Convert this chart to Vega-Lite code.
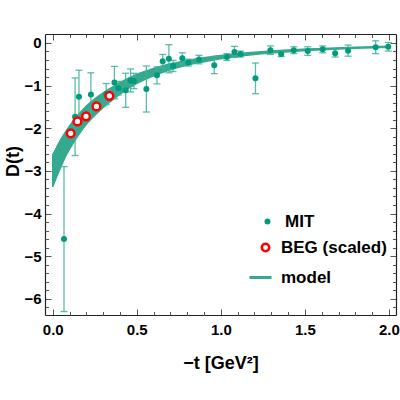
{
  "$schema": "https://vega.github.io/schema/vega-lite/v6.json",
  "autosize": "none",
  "width": 351,
  "height": 281,
  "padding": {"left": 45, "top": 34, "right": 4, "bottom": 85},
  "background": "white",
  "config": {
    "view": {"stroke": null},
    "font": "Liberation Sans",
    "axis": {
      "grid": false,
      "domainColor": "#222222",
      "domainWidth": 1.2,
      "tickColor": "#555555",
      "tickWidth": 1,
      "labelFont": "Liberation Sans",
      "labelFontWeight": "bold",
      "labelFontSize": 15,
      "labelColor": "black",
      "titleFont": "Liberation Sans",
      "titleFontWeight": "bold",
      "titleFontSize": 18,
      "titleColor": "black"
    },
    "legend": {
      "orient": "none",
      "padding": 0,
      "labelFont": "Liberation Sans",
      "labelFontSize": 17,
      "labelFontWeight": "bold",
      "labelColor": "black",
      "symbolOpacity": 1
    }
  },
  "datasets": {
    "mit": [
      {"t": 0.067, "d": -4.60, "err": 1.70, "series": "MIT"},
      {"t": 0.133, "d": -1.73, "err": 0.91, "series": "MIT"},
      {"t": 0.156, "d": -1.26, "err": 0.62, "series": "MIT"},
      {"t": 0.227, "d": -1.21, "err": 0.51, "series": "MIT"},
      {"t": 0.318, "d": -1.20, "err": 0.25, "series": "MIT"},
      {"t": 0.367, "d": -0.93, "err": 0.38, "series": "MIT"},
      {"t": 0.391, "d": -1.06, "err": 0.16, "series": "MIT"},
      {"t": 0.434, "d": -1.11, "err": 0.40, "series": "MIT"},
      {"t": 0.463, "d": -0.88, "err": 0.27, "series": "MIT"},
      {"t": 0.483, "d": -0.89, "err": 0.18, "series": "MIT"},
      {"t": 0.557, "d": -1.08, "err": 0.54, "series": "MIT"},
      {"t": 0.620, "d": -0.76, "err": 0.20, "series": "MIT"},
      {"t": 0.654, "d": -0.43, "err": 0.16, "series": "MIT"},
      {"t": 0.691, "d": -0.37, "err": 0.33, "series": "MIT"},
      {"t": 0.716, "d": -0.54, "err": 0.13, "series": "MIT"},
      {"t": 0.771, "d": -0.36, "err": 0.13, "series": "MIT"},
      {"t": 0.807, "d": -0.46, "err": 0.08, "series": "MIT"},
      {"t": 0.870, "d": -0.39, "err": 0.10, "series": "MIT"},
      {"t": 0.961, "d": -0.52, "err": 0.20, "series": "MIT"},
      {"t": 1.036, "d": -0.33, "err": 0.08, "series": "MIT"},
      {"t": 1.081, "d": -0.21, "err": 0.13, "series": "MIT"},
      {"t": 1.117, "d": -0.26, "err": 0.07, "series": "MIT"},
      {"t": 1.206, "d": -0.83, "err": 0.36, "series": "MIT"},
      {"t": 1.295, "d": -0.17, "err": 0.10, "series": "MIT"},
      {"t": 1.359, "d": -0.26, "err": 0.06, "series": "MIT"},
      {"t": 1.434, "d": -0.17, "err": 0.08, "series": "MIT"},
      {"t": 1.517, "d": -0.19, "err": 0.10, "series": "MIT"},
      {"t": 1.606, "d": -0.15, "err": 0.08, "series": "MIT"},
      {"t": 1.680, "d": -0.24, "err": 0.09, "series": "MIT"},
      {"t": 1.757, "d": -0.18, "err": 0.13, "series": "MIT"},
      {"t": 1.921, "d": -0.10, "err": 0.15, "series": "MIT"},
      {"t": 1.996, "d": -0.09, "err": 0.10, "series": "MIT"}
    ],
    "beg": [
      {"t": 0.107, "d": -2.12, "series": "BEG (scaled)"},
      {"t": 0.147, "d": -1.84, "series": "BEG (scaled)"},
      {"t": 0.198, "d": -1.72, "series": "BEG (scaled)"},
      {"t": 0.260, "d": -1.49, "series": "BEG (scaled)"},
      {"t": 0.337, "d": -1.24, "series": "BEG (scaled)"}
    ],
    "model": [
      {"t": 0.00, "hi": -2.63, "lo": -3.37, "series": "model"},
      {"t": 0.02, "hi": -2.47, "lo": -3.17, "series": "model"},
      {"t": 0.05, "hi": -2.25, "lo": -2.89, "series": "model"},
      {"t": 0.08, "hi": -2.06, "lo": -2.63, "series": "model"},
      {"t": 0.12, "hi": -1.84, "lo": -2.36, "series": "model"},
      {"t": 0.16, "hi": -1.65, "lo": -2.12, "series": "model"},
      {"t": 0.20, "hi": -1.48, "lo": -1.91, "series": "model"},
      {"t": 0.26, "hi": -1.28, "lo": -1.66, "series": "model"},
      {"t": 0.32, "hi": -1.12, "lo": -1.45, "series": "model"},
      {"t": 0.40, "hi": -0.93, "lo": -1.20, "series": "model"},
      {"t": 0.50, "hi": -0.74, "lo": -0.95, "series": "model"},
      {"t": 0.60, "hi": -0.60, "lo": -0.77, "series": "model"},
      {"t": 0.70, "hi": -0.49, "lo": -0.63, "series": "model"},
      {"t": 0.80, "hi": -0.41, "lo": -0.52, "series": "model"},
      {"t": 0.90, "hi": -0.345, "lo": -0.44, "series": "model"},
      {"t": 1.00, "hi": -0.295, "lo": -0.37, "series": "model"},
      {"t": 1.20, "hi": -0.22, "lo": -0.27, "series": "model"},
      {"t": 1.40, "hi": -0.165, "lo": -0.205, "series": "model"},
      {"t": 1.60, "hi": -0.13, "lo": -0.16, "series": "model"},
      {"t": 1.80, "hi": -0.10, "lo": -0.125, "series": "model"},
      {"t": 2.00, "hi": -0.075, "lo": -0.10, "series": "model"}
    ]
  },
  "resolve": {
    "scale": {"color": "independent"},
    "axis": {"x": "independent", "y": "independent"}
  },
  "layer": [
    {
      "data": {"name": "model"},
      "mark": {"type": "area", "interpolate": "monotone", "stroke": "#35a98f", "strokeWidth": 1.5, "opacity": 1},
      "encoding": {
        "x": {
          "field": "t", "type": "quantitative",
          "scale": {"domain": [-0.046, 2.042], "nice": false, "zero": false},
          "axis": {
            "orient": "bottom", "values": [0, 0.5, 1, 1.5, 2], "format": ".1f",
            "tickSize": -6, "labelPadding": 13, "labelFlush": false,
            "title": "−t [GeV²]", "titlePadding": 17
          }
        },
        "y": {
          "field": "lo", "type": "quantitative",
          "scale": {"domain": [-6.38, 0.21], "nice": false, "zero": false},
          "axis": {
            "orient": "left", "values": [-6, -5, -4, -3, -2, -1, 0], "format": "d",
            "tickSize": -6, "labelPadding": 10, "title": "D(t)", "titleX": -23, "titleY": 127
          }
        },
        "y2": {"field": "hi"},
        "color": {
          "field": "series", "type": "nominal",
          "scale": {"domain": ["model"], "range": ["#35a98f"]},
          "legend": {
            "title": null, "legendX": 203, "legendY": 231,
            "symbolType": "stroke", "symbolSize": 484, "symbolStrokeWidth": 3,
            "symbolStrokeColor": "#35a98f", "labelOffset": 8
          }
        }
      }
    },
    {
      "data": {"name": "mit"},
      "mark": {"type": "errorbar", "color": "#3fb099", "opacity": 0.85, "thickness": 1.3, "ticks": {"size": 7}},
      "encoding": {
        "x": {"field": "t", "type": "quantitative", "scale": {"domain": [-0.046, 2.042], "nice": false, "zero": false}, "axis": null},
        "y": {"field": "d", "type": "quantitative", "scale": {"domain": [-6.38, 0.21], "nice": false, "zero": false}, "axis": null},
        "yError": {"field": "err"}
      }
    },
    {
      "data": {"name": "mit"},
      "mark": {"type": "point", "filled": true, "size": 36, "opacity": 1},
      "encoding": {
        "x": {
          "field": "t", "type": "quantitative",
          "scale": {"domain": [-0.046, 2.042], "nice": false, "zero": false},
          "axis": {
            "orient": "bottom", "values": [0.1, 0.2, 0.3, 0.4, 0.6, 0.7, 0.8, 0.9, 1.1, 1.2, 1.3, 1.4, 1.6, 1.7, 1.8, 1.9],
            "labels": false, "domain": false, "tickSize": -3.5, "title": null
          }
        },
        "y": {
          "field": "d", "type": "quantitative",
          "scale": {"domain": [-6.38, 0.21], "nice": false, "zero": false},
          "axis": {
            "orient": "left",
            "values": [-6.2, -5.8, -5.6, -5.4, -5.2, -4.8, -4.6, -4.4, -4.2, -3.8, -3.6, -3.4, -3.2, -2.8, -2.6, -2.4, -2.2, -1.8, -1.6, -1.4, -1.2, -0.8, -0.6, -0.4, -0.2],
            "labels": false, "domain": false, "tickSize": -3.5, "title": null
          }
        },
        "color": {
          "field": "series", "type": "nominal",
          "scale": {"domain": ["MIT"], "range": ["#009b7d"]},
          "legend": {
            "title": null, "legendX": 214, "legendY": 179,
            "symbolType": "circle", "symbolSize": 36, "symbolStrokeWidth": 0, "labelOffset": 9
          }
        }
      }
    },
    {
      "data": {"name": "beg"},
      "mark": {"type": "point", "filled": false, "fill": "white", "fillOpacity": 1, "strokeWidth": 2.5, "size": 60, "opacity": 1},
      "encoding": {
        "x": {
          "field": "t", "type": "quantitative",
          "scale": {"domain": [-0.046, 2.042], "nice": false, "zero": false},
          "axis": {
            "orient": "top",
            "values": [0, 0.1, 0.2, 0.3, 0.4, 0.5, 0.6, 0.7, 0.8, 0.9, 1, 1.1, 1.2, 1.3, 1.4, 1.5, 1.6, 1.7, 1.8, 1.9, 2],
            "labels": false, "title": null,
            "tickSize": {"condition": {"test": "abs(datum.value * 2 - round(datum.value * 2)) < 0.001", "value": -6}, "value": -3.5}
          }
        },
        "y": {
          "field": "d", "type": "quantitative",
          "scale": {"domain": [-6.38, 0.21], "nice": false, "zero": false},
          "axis": {
            "orient": "right",
            "values": [-6.2, -6, -5.8, -5.6, -5.4, -5.2, -5, -4.8, -4.6, -4.4, -4.2, -4, -3.8, -3.6, -3.4, -3.2, -3, -2.8, -2.6, -2.4, -2.2, -2, -1.8, -1.6, -1.4, -1.2, -1, -0.8, -0.6, -0.4, -0.2, 0],
            "labels": false, "title": null,
            "tickSize": {"condition": {"test": "abs(datum.value - round(datum.value)) < 0.001", "value": -6}, "value": -3.5}
          }
        },
        "color": {
          "field": "series", "type": "nominal",
          "scale": {"domain": ["BEG (scaled)"], "range": ["#ff0000"]},
          "legend": {
            "title": null, "legendX": 212, "legendY": 205,
            "symbolType": "circle", "symbolSize": 55, "symbolStrokeWidth": 2.5,
            "symbolFillColor": "white", "labelOffset": 7
          }
        }
      }
    }
  ]
}
